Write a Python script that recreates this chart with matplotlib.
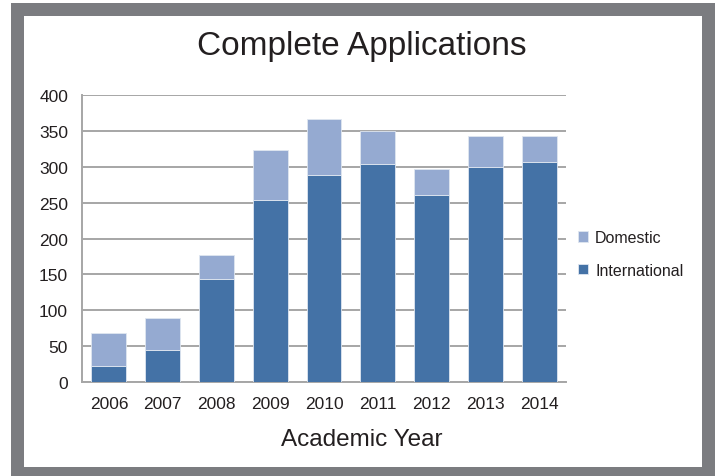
import matplotlib
matplotlib.use("Agg")
from matplotlib import pyplot as plt
from matplotlib.patches import Rectangle

# Данные графика
years = ["2006", "2007", "2008", "2009", "2010", "2011", "2012", "2013", "2014"]
international = [22, 45, 144, 254, 289, 304, 261, 300, 306]
domestic = [47, 45, 33, 69, 77, 46, 36, 43, 36]
y_ticks = [0, 50, 100, 150, 200, 250, 300, 350, 400]

font = ["Liberation Sans", "DejaVu Sans"]
ink = "#231f20"

W, H = 718, 477
fig = plt.figure(figsize=(W / 100, H / 100), dpi=100)
fig.patch.set_facecolor("white")

# Серая рамка
fig.patches.append(Rectangle((11 / W, 0), (715 - 11) / W, (477 - 4) / H,
                             transform=fig.transFigure, facecolor="#7b7c80",
                             edgecolor="none", zorder=-10))
fig.patches.append(Rectangle((24 / W, (477 - 468) / H), (702 - 24) / W, (468 - 17) / H,
                             transform=fig.transFigure, facecolor="white",
                             edgecolor="none", zorder=-9))

ax = fig.add_axes([82 / W, (477 - 383.3) / H, 484 / W, 287.6 / H])
ax.set_facecolor("none")
ax.set_zorder(1)

x = range(len(years))
ax.bar(x, international, width=0.65, color="#4472a6", edgecolor="#dfe6f0",
       linewidth=0.6, label="International", zorder=3)
ax.bar(x, domestic, width=0.65, bottom=international, color="#95aad1",
       edgecolor="#dfe6f0", linewidth=0.6, label="Domestic", zorder=3)

ax.set_xlim(-0.5, len(years) - 0.5)
ax.set_ylim(0, 400)
ax.set_yticks(y_ticks)
ax.set_xticks(list(x))
ax.set_xticklabels(years)
ax.grid(axis="y", color="#a6a6a6", linewidth=1.4, zorder=0)
for s in ["top", "right"]:
    ax.spines[s].set_visible(False)
for s in ["left", "bottom"]:
    ax.spines[s].set_color("#a6a6a6")
    ax.spines[s].set_linewidth(1.4)
ax.tick_params(axis="x", length=0, pad=10, labelsize=12.5, colors=ink)
ax.tick_params(axis="y", length=0, pad=10, labelsize=12.5, colors=ink)
for lab in ax.get_xticklabels() + ax.get_yticklabels():
    lab.set_family(font)

# Подпись оси по центру рисунка, как у заголовка
ax.set_xlabel("Academic Year", family=font, fontsize=17.5, color=ink)
ax.xaxis.set_label_coords((362 - 82) / 484, -0.197)
ax.xaxis.label.set_verticalalignment("center")
fig.text(362 / W, 1 - 46 / H, "Complete Applications", family=font,
         fontsize=24, color=ink, ha="center", va="center")

handles, labels = ax.get_legend_handles_labels()
leg = ax.legend(handles[::-1], labels[::-1], loc="center left",
                bbox_to_anchor=(1.025, 0.446), bbox_transform=ax.transAxes,
                frameon=False, prop={"family": font, "size": 11.5},
                handlelength=0.62, handleheight=0.62, handletextpad=0.45,
                labelspacing=1.1, borderpad=0, borderaxespad=0)
for t in leg.get_texts():
    t.set_color(ink)

fig.savefig("out.png", dpi=100)
